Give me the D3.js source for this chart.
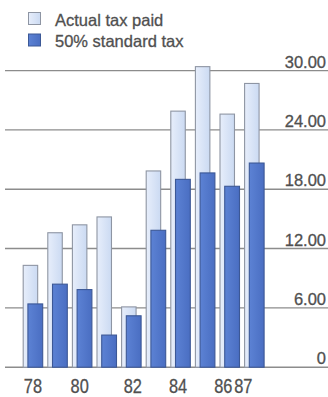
<!DOCTYPE html>
<html>
<head>
<meta charset="utf-8">
<script src="https://cdn.jsdelivr.net/npm/d3@7/dist/d3.min.js"></script>
<style>
  html, body { margin: 0; padding: 0; background: #fff; }
  svg { display: block; }
  text { font-family: "Liberation Sans", Arial, Helvetica, sans-serif; fill: #505050;
         stroke: #505050; stroke-width: 0.3px; }
</style>
</head>
<body>
<div id="chart"></div>
<script>
// Tax paid vs. 50% standard tax, 1978–1987
const years = ["78", "79", "80", "81", "82", "83", "84", "85", "86", "87"];
const actualTax = [10.3, 13.6, 14.4, 15.2, 6.1, 19.85, 25.9, 30.4, 25.6, 28.7];
const standardTax = [6.4, 8.4, 7.85, 3.25, 5.2, 13.85, 19.0, 19.65, 18.3, 20.65];
const yTicks = [0, 6, 12, 18, 24, 30];
const xTickLabels = ["78", "80", "82", "84", "86", "87"];
const seriesNames = ["Actual tax paid", "50% standard tax"];

const W = 328, H = 397;
const svg = d3.select("#chart").append("svg")
  .attr("width", W).attr("height", H);

const defs = svg.append("defs");
const gLight = defs.append("linearGradient").attr("id", "gLight")
  .attr("x1", "0%").attr("x2", "100%").attr("y1", "0%").attr("y2", "0%");
gLight.append("stop").attr("offset", "0%").attr("stop-color", "#e7eefb");
gLight.append("stop").attr("offset", "100%").attr("stop-color", "#cbdaf2");
const gDark = defs.append("linearGradient").attr("id", "gDark")
  .attr("x1", "0%").attr("x2", "100%").attr("y1", "0%").attr("y2", "0%");
gDark.append("stop").attr("offset", "0%").attr("stop-color", "#5c82d4");
gDark.append("stop").attr("offset", "100%").attr("stop-color", "#4a6ec2");

const x = d3.scaleBand().domain(years).range([22.7, 264.6])
  .paddingInner(0.1667).paddingOuter(0);
const y = d3.scaleLinear().domain([0, 30]).range([367.2, 70.6]);

// horizontal gridlines with value labels at the right
const grid = svg.append("g");
grid.selectAll("line").data(yTicks).join("line")
  .attr("x1", 5).attr("x2", W)
  .attr("y1", d => y(d)).attr("y2", d => y(d))
  .attr("stroke", "#8c8c8c").attr("stroke-width", 1.4);
grid.selectAll("text").data(yTicks).join("text")
  .attr("x", 326).attr("y", d => y(d) - 3)
  .attr("text-anchor", "end")
  .attr("font-size", 16.5)
  .text(d => d === 0 ? "0" : d.toFixed(2));

const bw = x.bandwidth();
const lightW = bw * 0.755, darkOff = bw * 0.23, darkW = bw * 0.77;

// actual tax bars (behind)
svg.append("g").selectAll("rect").data(years).join("rect")
  .attr("x", d => x(d) + 0.5)
  .attr("width", lightW - 1)
  .attr("y", (d, i) => y(actualTax[i]))
  .attr("height", (d, i) => y(0) - y(actualTax[i]))
  .attr("fill", "url(#gLight)")
  .attr("stroke", "#8e95a3").attr("stroke-width", 1.1);

// standard tax bars (front, offset right)
svg.append("g").selectAll("rect").data(years).join("rect")
  .attr("x", d => x(d) + darkOff + 0.5)
  .attr("width", darkW - 1)
  .attr("y", (d, i) => y(standardTax[i]))
  .attr("height", (d, i) => y(0) - y(standardTax[i]))
  .attr("fill", "url(#gDark)")
  .attr("stroke", "#3c5896").attr("stroke-width", 1.1);

// year labels in a condensed face, centred under the actual-tax bars;
// the last two are nudged apart
const nudge = { "78": 2.5, "82": 4, "86": -4, "87": -8.5 };
svg.append("g").selectAll("text").data(xTickLabels).join("text")
  .attr("transform", d =>
    `translate(${x(d) + lightW / 2 + (nudge[d] || 0)},393) scale(0.84,1)`)
  .attr("text-anchor", "middle")
  .attr("font-size", 19.5)
  .text(d => d);

// legend
const legend = svg.append("g");
const swatch = [
  { fill: "url(#gLight)", stroke: "#8e95a3" },
  { fill: "url(#gDark)", stroke: "#3c5896" }
];
seriesNames.forEach((name, i) => {
  const top = 12.5 + i * 21.5;
  legend.append("rect")
    .attr("x", 28.5).attr("y", top)
    .attr("width", 12).attr("height", 12)
    .attr("fill", swatch[i].fill)
    .attr("stroke", swatch[i].stroke).attr("stroke-width", 1);
  legend.append("text")
    .attr("x", 55).attr("y", top + 13)
    .attr("font-size", 16.5)
    .text(name);
});
</script>
</body>
</html>
